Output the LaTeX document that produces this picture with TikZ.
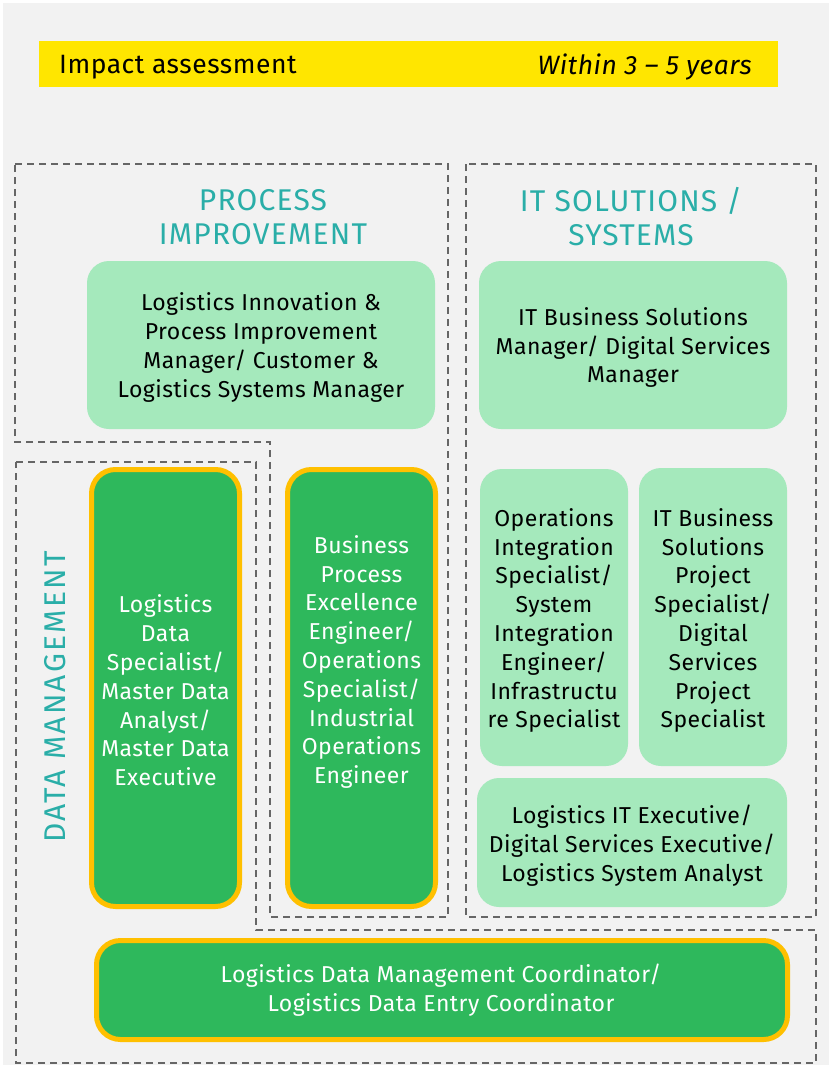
\documentclass[tikz,border=0pt]{standalone}
\usepackage{fontspec}
\setmainfont{Fira Sans}
\newfontfamily\titlefont[LetterSpace=4]{Fira Sans}
\newfontfamily\dmfont[LetterSpace=7.5]{Fira Sans}
\newfontfamily\bodyfont[LetterSpace=2]{Fira Sans}
\definecolor{bgcol}{HTML}{F2F2F2}
\definecolor{headyellow}{HTML}{FFE600}
\definecolor{lgreen}{HTML}{A5E9BC}
\definecolor{dgreen}{HTML}{2EB85C}
\definecolor{yborder}{HTML}{FFC000}
\definecolor{tealcol}{HTML}{2AAEA8}
\definecolor{dashgray}{HTML}{666666}
\tikzset{
  dashbox/.style={draw=dashgray, line width=1.4pt, dash pattern=on 7pt off 5pt},
  lbox/.style={fill=lgreen, rounded corners=22pt, inner sep=0pt},
  dbox/.style={fill=dgreen, draw=yborder, line width=5pt, rounded corners=24pt, inner sep=0pt},
  ltext/.style={align=center, text=black, font=\bodyfont\fontsize{23}{28.8}\selectfont, inner sep=0pt},
  dtext/.style={align=center, text=white, font=\bodyfont\fontsize{23}{28.8}\selectfont, inner sep=0pt},
  ttl/.style={align=center, text=tealcol, font=\titlefont\fontsize{30}{34}\selectfont, inner sep=0pt},
  dmttl/.style={text=tealcol, font=\dmfont\fontsize{30}{34}\selectfont, inner sep=0pt},
  bartext/.style={text=black, font=\bodyfont\fontsize{26.5}{30}\selectfont, inner sep=0pt},
}
\begin{document}
\begin{tikzpicture}[x=1pt,y=-1pt]
\useasboundingbox (0,0) rectangle (829,1065);
\fill[white] (0,0) rectangle (829,1065);
\fill[bgcol] (3,3) rectangle (829,1065);
% header bar
\fill[headyellow] (39,41) rectangle (778,87);
\node[bartext, anchor=west] (ia) at (59,67) {Impact assessment};
\node[bartext, anchor=east] (wy) at (752,67) {\itshape Within 3 – 5 years};
% dashed regions
\draw[dashbox] (15,164) -- (448,164) -- (448,917) -- (270,917) -- (270,442) -- (15,442) -- cycle;
\draw[dashbox] (466,164) rectangle (816,917);
\draw[dashbox] (16,462) -- (256,462) -- (256,930) -- (816,930) -- (816,1063) -- (16,1063) -- cycle;
% titles
\node[ttl] (tpi) at (263,217) {PROCESS\\IMPROVEMENT};
\node[ttl] (tit) at (631,217) {IT SOLUTIONS /\\SYSTEMS};
\node[dmttl, rotate=90] (tdm) at (55,697) {DATA MANAGEMENT};
% light boxes
\node[lbox, minimum width=348pt, minimum height=168pt] (b1) at (261,345) {};
\node[ltext] (b1t) at (261,347.5) {Logistics Innovation \&\\Process Improvement\\Manager/ Customer \&\\Logistics Systems Manager};
\node[lbox, minimum width=308pt, minimum height=168pt] (b2) at (633,345) {};
\node[ltext] (b2t) at (633,347.5) {IT Business Solutions\\Manager/ Digital Services\\Manager};
\node[lbox, minimum width=148pt, minimum height=297pt] (b3) at (554,617.5) {};
\node[ltext] (b3t) at (554,620.5) {Operations\\Integration\\Specialist/\\System\\Integration\\Engineer/\\Infrastructu\\re Specialist};
\node[lbox, minimum width=148pt, minimum height=298pt] (b4) at (713,617) {};
\node[ltext] (b4t) at (713,620.5) {IT Business\\Solutions\\Project\\Specialist/\\Digital\\Services\\Project\\Specialist};
\node[lbox, minimum width=310pt, minimum height=129pt] (b5) at (632,842.5) {};
\node[ltext] (b5t) at (632,845.5) {Logistics IT Executive/\\Digital Services Executive/\\Logistics System Analyst};
% dark boxes
\node[dbox, minimum width=148pt, minimum height=437pt] (d1) at (165.5,688) {};
\node[dtext] (d1t) at (165.5,690.5) {Logistics\\Data\\Specialist/\\Master Data\\Analyst/\\Master Data\\Executive};
\node[dbox, minimum width=148pt, minimum height=437pt] (d2) at (361.5,688) {};
\node[dtext] (d2t) at (361.5,662) {Business\\Process\\Excellence\\Engineer/\\Operations\\Specialist/\\Industrial\\Operations\\Engineer};
\node[dbox, minimum width=691pt, minimum height=99pt] (d3) at (442,990) {};
\node[dtext] (d3t) at (441,990.5) {Logistics Data Management Coordinator/\\Logistics Data Entry Coordinator};
\end{tikzpicture}
\end{document}
